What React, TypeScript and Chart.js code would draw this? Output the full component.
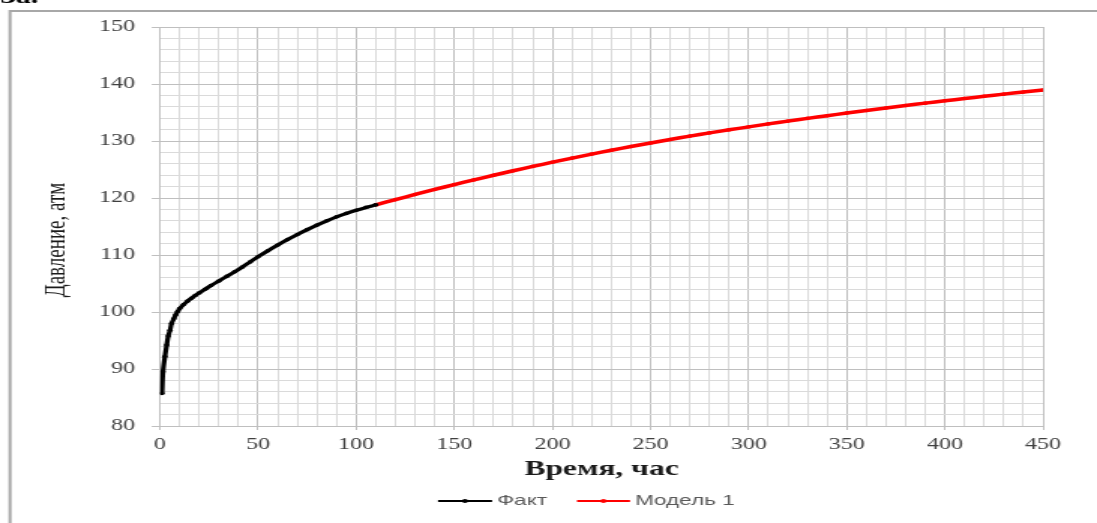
import { useEffect, useRef } from "react";
import { Chart, registerables } from "chart.js";

Chart.register(...registerables);

// Pressure build-up: measured data and model continuation
const factTime = [1, 1.5, 2.5, 3.4, 4.2, 5.1, 5.9, 7, 8, 9, 10, 12, 14, 16, 18, 20, 23, 26, 30, 34, 38, 42, 46, 50, 55, 60, 65, 70, 75, 80, 85, 90, 95, 100, 105, 110];
const factPressure = [85.7, 89.5, 92.2, 94.2, 95.8, 96.8, 98.0, 98.8, 99.5, 100.1, 100.6, 101.3, 101.9, 102.4, 102.9, 103.35, 104.0, 104.65, 105.45, 106.25, 107.05, 107.9, 108.8, 109.7, 110.75, 111.75, 112.7, 113.6, 114.45, 115.25, 116.0, 116.7, 117.3, 117.85, 118.35, 118.8];

const modelTime = [110, 120, 130, 140, 150, 160, 170, 180, 190, 200, 210, 220, 230, 240, 250, 260, 270, 280, 290, 300, 310, 320, 330, 340, 350, 360, 370, 380, 390, 400, 410, 420, 430, 440, 450];
const modelPressure = [118.8, 119.72, 120.62, 121.5, 122.35, 123.18, 123.99, 124.78, 125.54, 126.28, 127.0, 127.7, 128.38, 129.03, 129.66, 130.27, 130.86, 131.42, 131.96, 132.48, 133.0, 133.49, 133.97, 134.44, 134.9, 135.35, 135.79, 136.22, 136.64, 137.05, 137.45, 137.84, 138.22, 138.59, 138.95];

const xTickLabels = [0, 50, 100, 150, 200, 250, 300, 350, 400, 450];
const yTickLabels = [80, 90, 100, 110, 120, 130, 140, 150];

const seriesNames = ["Факт", "Модель 1"];
const seriesColors = ["#000000", "#ff0000"];

const heading = "За.";
const xTitle = "Время, час";
const yTitle = "Давление, атм";

// The figure is drawn on a narrower canvas and widened by CSS,
// which gives the characteristic wide lettering.
const PAGE_W = 1097;
const PAGE_H = 523;
const CANVAS_W = 731;
const SX = PAGE_W / CANVAS_W;
const cx = (x: number) => x / SX;

const MAJOR = "#bfbfbf";
const MINOR = "#dadada";

const decor = {
  id: "decor",
  beforeDraw(chart: Chart) {
    const ctx = chart.ctx;
    ctx.save();
    ctx.fillStyle = "#ffffff";
    ctx.fillRect(0, 0, chart.width, chart.height);
    ctx.strokeStyle = "#a8a8a8";
    ctx.lineWidth = 2;
    ctx.beginPath();
    ctx.moveTo(cx(10), chart.height + 5);
    ctx.lineTo(cx(10), 11);
    ctx.lineTo(chart.width + 5, 11);
    ctx.stroke();
    ctx.restore();
  },
  afterDraw(chart: Chart) {
    const ctx = chart.ctx;
    ctx.save();

    // heading of the figure (cut by the top edge)
    ctx.fillStyle = "#000000";
    ctx.font = "bold 20px 'Liberation Serif'";
    ctx.textAlign = "left";
    ctx.textBaseline = "alphabetic";
    ctx.fillText(heading, 0, 3);

    // x axis title
    const area = chart.chartArea;
    ctx.fillStyle = "#1a1a1a";
    ctx.font = "bold 21px 'Liberation Serif'";
    ctx.textAlign = "center";
    ctx.textBaseline = "middle";
    ctx.fillText(xTitle, (area.left + area.right) / 2, 469.5);

    // y axis title
    ctx.save();
    ctx.translate(cx(57), 240);
    ctx.rotate(-Math.PI / 2);
    ctx.font = "19px 'Liberation Serif'";
    ctx.fillText(yTitle, 0, 0);
    ctx.restore();

    // legend
    const legendY = 501;
    const items = [
      { x0: cx(438), x1: cx(492), tx: cx(497) },
      { x0: cx(577), x1: cx(630), tx: cx(635) },
    ];
    chart.data.datasets.forEach((ds: any, i: number) => {
      const it = items[i];
      ctx.strokeStyle = ds.borderColor;
      ctx.fillStyle = ds.borderColor;
      ctx.lineWidth = 2;
      ctx.beginPath();
      ctx.moveTo(it.x0, legendY);
      ctx.lineTo(it.x1, legendY);
      ctx.stroke();
      ctx.beginPath();
      ctx.arc((it.x0 + it.x1) / 2, legendY, 2, 0, Math.PI * 2);
      ctx.fill();
      ctx.fillStyle = "#595959";
      ctx.font = "15px 'Liberation Sans'";
      ctx.textAlign = "left";
      ctx.textBaseline = "middle";
      ctx.fillText(ds.label, it.tx, legendY);
    });
    ctx.restore();
  },
};

export default function App() {
  const canvasRef = useRef<HTMLCanvasElement | null>(null);

  useEffect(() => {
    const canvas = canvasRef.current;
    if (!canvas) return;

    const chart = new Chart(canvas, {
      type: "line",
      data: {
        datasets: [
          {
            label: seriesNames[0],
            data: factTime.map((t, i) => ({ x: t, y: factPressure[i] })),
            borderColor: seriesColors[0],
            backgroundColor: seriesColors[0],
            borderWidth: 3.2,
            pointRadius: 1.8,
            pointBorderWidth: 0,
            tension: 0.3,
          },
          {
            label: seriesNames[1],
            data: modelTime.map((t, i) => ({ x: t, y: modelPressure[i] })),
            borderColor: seriesColors[1],
            backgroundColor: seriesColors[1],
            borderWidth: 3.5,
            pointRadius: 1.8,
            pointBorderWidth: 0,
            tension: 0.3,
          },
        ],
      },
      options: {
        animation: false,
        responsive: false,
        devicePixelRatio: 1,
        events: [],
        layout: { padding: { left: 0, top: 27, right: CANVAS_W - cx(1043), bottom: 0 } },
        plugins: {
          legend: { display: false },
          title: { display: false },
          tooltip: { enabled: false },
        },
        scales: {
          x: {
            type: "linear",
            min: 0,
            max: 450,
            afterFit: (scale: any) => {
              scale.height = PAGE_H - 426;
            },
            ticks: {
              stepSize: 10,
              autoSkip: false,
              maxRotation: 0,
              minRotation: 0,
              padding: 5,
              color: "#404040",
              font: { family: "'Liberation Serif'", size: 16 },
              callback: (v: any) => (xTickLabels.includes(Number(v)) ? String(v) : ""),
            },
            grid: {
              color: (c: any) => (c.tick && c.tick.value % 50 === 0 ? MAJOR : MINOR),
              tickColor: (c: any) => (c.tick && c.tick.value % 50 === 0 ? MAJOR : "rgba(0,0,0,0)"),
              tickLength: 4,
              lineWidth: 1,
            },
            border: { color: MAJOR },
          },
          y: {
            type: "linear",
            min: 80,
            max: 150,
            afterFit: (scale: any) => {
              scale.width = cx(160);
            },
            ticks: {
              stepSize: 2,
              autoSkip: false,
              padding: 11,
              color: "#404040",
              font: { family: "'Liberation Serif'", size: 16 },
              callback: (v: any) => (yTickLabels.includes(Number(v)) ? String(v) : ""),
            },
            grid: {
              color: (c: any) => (c.tick && c.tick.value % 10 === 0 ? MAJOR : MINOR),
              tickColor: (c: any) => (c.tick && c.tick.value % 10 === 0 ? MAJOR : "rgba(0,0,0,0)"),
              tickLength: 5.5,
              lineWidth: 1,
            },
            border: { color: MAJOR },
          },
        },
      },
      plugins: [decor],
    } as any);

    return () => chart.destroy();
  }, []);

  return (
    <div
      style={{
        position: "fixed",
        left: 0,
        top: 0,
        width: PAGE_W,
        height: PAGE_H,
        background: "#ffffff",
        overflow: "hidden",
      }}
    >
      <canvas
        ref={canvasRef}
        width={CANVAS_W}
        height={PAGE_H}
        style={{ display: "block", width: PAGE_W + "px", height: PAGE_H + "px" }}
      />
    </div>
  );
}
